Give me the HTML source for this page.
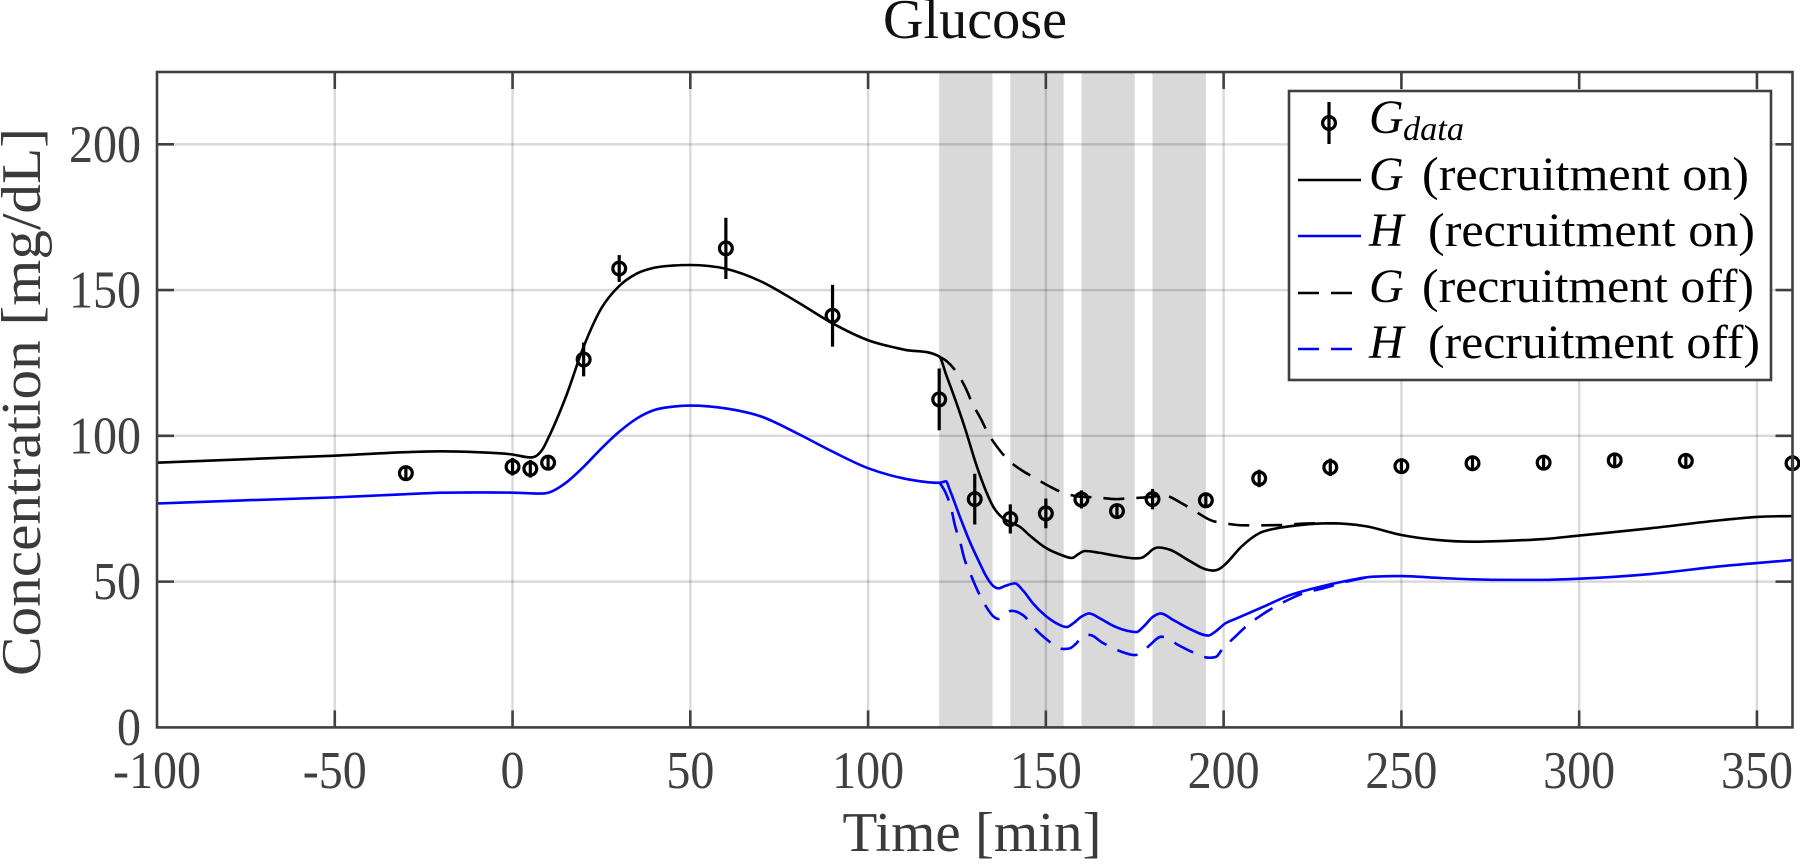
<!DOCTYPE html>
<html lang="en">
<head>
<meta charset="utf-8">
<title>Glucose</title>
<style>
html,body{margin:0;padding:0;background:#fff;}
svg{display:block;}
text{font-family:"Liberation Serif",serif;}
</style>
</head>
<body>
<svg id="chart" xmlns="http://www.w3.org/2000/svg" width="1800" height="865" viewBox="0 0 1800 865">
  <rect x="0" y="0" width="1800" height="865" fill="#fff"/>
  <g id="bands"></g>
  <g id="grid"></g>
  <g id="series"></g>
  <g id="points"></g>
  <g id="axes"></g>
  <text x="975" y="38" font-size="56" text-anchor="middle" textLength="184" lengthAdjust="spacingAndGlyphs" fill="#111">Glucose</text>
  <text x="972" y="851" font-size="56" text-anchor="middle" textLength="259" lengthAdjust="spacingAndGlyphs" fill="#3a3a3a">Time [min]</text>
  <text transform="translate(40,402) rotate(-90)" x="0" y="0" font-size="56" text-anchor="middle" textLength="548" lengthAdjust="spacingAndGlyphs" fill="#3a3a3a">Concentration [mg/dL]</text>

  <g>
    <rect x="1289" y="91" width="482" height="289" fill="#fff" stroke="#404040" stroke-width="2.6"/>
    <g>
      <line x1="1329" y1="102" x2="1329" y2="144" stroke="#000" stroke-width="3.2"/>
      <circle cx="1329" cy="123" r="6.4" fill="none" stroke="#000" stroke-width="3.2"/>
      <text x="1369" y="133" font-size="48" font-style="italic" fill="#000">G</text>
      <text x="1403" y="140" font-size="34" font-style="italic" textLength="61" lengthAdjust="spacingAndGlyphs" fill="#000">data</text>
    </g>
    <g>
      <line x1="1298" y1="180" x2="1361" y2="180" stroke="#000" stroke-width="2.6"/>
      <text x="1369" y="190" font-size="48" font-style="italic" fill="#000">G</text>
      <text x="1422" y="190" font-size="48" textLength="327" lengthAdjust="spacingAndGlyphs" fill="#000">(recruitment on)</text>
    </g>
    <g>
      <line x1="1298" y1="236" x2="1361" y2="236" stroke="#0000ff" stroke-width="2.6"/>
      <text x="1369" y="246" font-size="48" font-style="italic" fill="#000">H</text>
      <text x="1428" y="246" font-size="48" textLength="327" lengthAdjust="spacingAndGlyphs" fill="#000">(recruitment on)</text>
    </g>
    <g>
      <line x1="1298" y1="293" x2="1353" y2="293" stroke="#000" stroke-width="2.6" stroke-dasharray="21 12"/>
      <text x="1369" y="302" font-size="48" font-style="italic" fill="#000">G</text>
      <text x="1422" y="302" font-size="48" textLength="332" lengthAdjust="spacingAndGlyphs" fill="#000">(recruitment off)</text>
    </g>
    <g>
      <line x1="1298" y1="349" x2="1353" y2="349" stroke="#0000ff" stroke-width="2.6" stroke-dasharray="21 12"/>
      <text x="1369" y="358" font-size="48" font-style="italic" fill="#000">H</text>
      <text x="1428" y="358" font-size="48" textLength="332" lengthAdjust="spacingAndGlyphs" fill="#000">(recruitment off)</text>
    </g>
  </g>
</svg>
<script>
// ---- chart data ----
const xTicks = [-100,-50,0,50,100,150,200,250,300,350];
const yTicks = [0,50,100,150,200];
const bandStarts = [120,140,160,180];
const bandEnds = [135,155,175,195];

const dataTimes = [-30,0,5,10,20,30,60,90,120,130,140,150,160,170,180,195,210,230,250,270,290,310,330,360];
const dataValues = [87.2,89.4,88.7,90.8,126.2,157.4,164.3,141.2,112.5,78.3,71.5,73.4,78.2,74.2,78.3,77.9,85.4,89.2,89.6,90.6,90.8,91.6,91.4,90.6];
const dataErrors = [2.2,3,3,2.6,5.8,4.6,10.5,10.6,10.6,8.7,5,5.1,3.1,2.4,3.5,2.4,3,3,2.5,2.4,2.4,2.4,2.4,2.4];

const gOnTimes = [-100,-75,-50,-30,-20,-10,0,5,7,8.5,10,15,20,25,30,35,40,45,50,60,70,80,90,100,110,120,122,124.9,127.7,130,132.3,135.2,138,139.9,142.7,145.5,149.7,154,157.3,159.2,161,165,170,175,177,178.5,180,181.5,185,190,195,197,199,200.5,205,210,215,220,225,230,240,250,260,270,280,290,300,320,340,350,360];
const gOnValues = [90.8,92,93.2,94.4,94.7,94.4,93.6,92.6,93.4,95.5,99.1,113.4,130.6,143.8,151.4,155.7,157.7,158.4,158.6,157.3,152.9,146,138.6,132.8,129.6,127.2,120.8,111.1,100.9,91.7,83.7,75.7,71.7,70.4,68.8,65.8,61.8,59.3,58.1,59.5,60.5,59.9,58.8,58,58.2,59.4,61,61.7,60.9,57.4,54.2,53.8,54.5,56,62,66.6,68.3,69.2,69.8,70,69,66,64.3,63.7,64,64.6,65.8,68.3,71.1,72.2,72.5];

const hOnTimes = [-100,-75,-50,-30,-20,-9,0,5,8,10,15,20,25,30,35,40,45,50,60,70,80,90,100,110,120,121.9,123,125.8,128.6,131.4,133,135.2,136.6,138.5,141.3,143.6,146.4,149.7,153,155.8,157.7,160,162.2,165.2,169,172.7,175.5,177.4,180.2,182.3,185.9,190.6,195.7,197.6,200.5,203.7,211.2,218.7,225.3,234.7,240.3,250,260,270,280,290,300,320,340,360];
const hOnValues = [76.8,77.9,78.9,80,80.5,80.6,80.5,80.3,80.2,80.5,83.9,89.4,95.7,101.4,106,108.9,110,110.4,109.4,106.6,100.9,94.6,88.9,85.4,83.9,84.4,81.4,72.3,63.7,56.3,52.3,48.5,47.7,48.5,49.4,46.9,42.5,38.5,35.7,34.4,35.7,38,39.1,37.4,34.8,33.2,32.7,34.5,38,39.1,36.8,33.7,31.5,32.8,35.7,37.4,41.4,45.4,47.7,50.3,51.5,51.9,51.3,50.8,50.6,50.6,51,52.6,55.3,57.4];

const gOffTimes = [120,122,124.9,127.7,129.1,131.9,133.5,136.6,139,143.6,146.4,151.6,154.8,158.6,164.2,170,173.7,179.3,183,188.6,191.5,196.7,200.4,205.6,215.4,224.8,232];
const gOffValues = [127.2,125.7,121.8,115.7,111.7,105.4,101.4,95.7,92.2,87.9,85.9,82.3,80.5,79.3,78.9,78.3,78.6,79,79.6,76.6,74.5,70.9,70,69.3,69.4,70,70];

const hOffTimes = [120,121.8,123.5,124.4,126,126.9,129,130.5,133.1,135.4,136.6,137.8,140.3,143.6,147.3,150.1,154.8,156.7,158.4,160.4,162.3,166,171.2,175,176.8,179.2,182.5,187.6,190.9,196,198,199.4,203.4,206.2,210.6,213.9,219.1,222.3,228,234.6,240.3];
const hOffValues = [84.2,80.5,74.5,69.4,63.1,58.6,52,47.7,41.6,37.9,37.2,37.8,40,38.5,33.4,30.3,26.9,27.1,28.6,31.3,31.7,29,26,24.8,25.4,28.2,31.1,28,26,23.9,24.3,26.5,31.3,34.5,38.5,41,44.3,46,47.7,50,51.5];

// ---- axis functions ----
const plotLeft = 157, plotRight = 1792.5, plotTop = 72, plotBottom = 727.4;
const xMin = -100, xMax = 360, yMin = 0, yMax = 224.8;
function xScale(t){ return plotLeft + (t - xMin) * (plotRight - plotLeft) / (xMax - xMin); }
function yScale(v){ return plotBottom - (v - yMin) * (plotBottom - plotTop) / (yMax - yMin); }

const NS = 'http://www.w3.org/2000/svg';
function make(tag, parent, attrs){
  const el = document.createElementNS(NS, tag);
  for (const k in attrs) el.setAttribute(k, attrs[k]);
  parent.appendChild(el);
  return el;
}
function curvePath(ts, vs){
  const xs = ts.map(xScale), ys = vs.map(yScale), n = xs.length;
  const s = [], w = [];
  for (let i = 0; i < n - 1; i++){ w.push(xs[i+1]-xs[i]); s.push((ys[i+1]-ys[i])/w[i]); }
  const m = [s[0]];
  for (let i = 1; i < n - 1; i++){
    if (s[i-1]*s[i] <= 0){ m.push(0); continue; }
    const centered = (s[i-1]*w[i] + s[i]*w[i-1])/(w[i-1]+w[i]);
    const limit = 3*Math.min(Math.abs(s[i-1]), Math.abs(s[i]));
    m.push(Math.sign(centered)*Math.min(Math.abs(centered), limit));
  }
  m.push(s[n-2]);
  let d = 'M' + xs[0].toFixed(2) + ' ' + ys[0].toFixed(2);
  for (let i = 0; i < n - 1; i++){
    const h = w[i]/3;
    d += 'C' + (xs[i]+h).toFixed(2) + ' ' + (ys[i]+m[i]*h).toFixed(2) + ' ' +
         (xs[i+1]-h).toFixed(2) + ' ' + (ys[i+1]-m[i+1]*h).toFixed(2) + ' ' +
         xs[i+1].toFixed(2) + ' ' + ys[i+1].toFixed(2);
  }
  return d;
}

const axisColor = '#404040';
const bandsG = document.getElementById('bands');
const gridG = document.getElementById('grid');
const seriesG = document.getElementById('series');
const pointsG = document.getElementById('points');
const axesG = document.getElementById('axes');

// shaded bands
bandStarts.forEach(function(start, i){
  const band = make('rect', bandsG, {x:xScale(start), y:plotTop, width:xScale(bandEnds[i])-xScale(start), height:plotBottom-plotTop, fill:'#d9d9d9'});
  
  
});

// grid
xTicks.forEach(function(t){
  if (t === xMin) return;
  const line = make('line', gridG, {x1:xScale(t), x2:xScale(t), y1:plotTop, y2:plotBottom, stroke:'#000', 'stroke-opacity':0.15, 'stroke-width':2.4});
  
  
});
yTicks.forEach(function(v){
  if (v === yMin) return;
  const line = make('line', gridG, {x1:plotLeft, x2:plotRight, y1:yScale(v), y2:yScale(v), stroke:'#000', 'stroke-opacity':0.15, 'stroke-width':2.4});
  
  
});

// curves (dashed under solid)
const gOffLine = make('path', seriesG, {d:curvePath(gOffTimes, gOffValues), fill:'none', stroke:'#000', 'stroke-width':2.6, 'stroke-dasharray':'21 12'});


const hOffLine = make('path', seriesG, {d:curvePath(hOffTimes, hOffValues), fill:'none', stroke:'#0000ff', 'stroke-width':2.6, 'stroke-dasharray':'21 12'});


const gOnLine = make('path', seriesG, {d:curvePath(gOnTimes, gOnValues), fill:'none', stroke:'#000', 'stroke-width':2.6});


const hOnLine = make('path', seriesG, {d:curvePath(hOnTimes, hOnValues), fill:'none', stroke:'#0000ff', 'stroke-width':2.6});



// data points with error bars
dataTimes.forEach(function(t, i){
  const bar = make('line', pointsG, {x1:xScale(t), x2:xScale(t), y1:yScale(dataValues[i]-dataErrors[i]), y2:yScale(dataValues[i]+dataErrors[i]), stroke:'#000', 'stroke-width':3.2});
  
  
  const dot = make('circle', pointsG, {cx:xScale(t), cy:yScale(dataValues[i]), r:6.4, fill:'none', stroke:'#000', 'stroke-width':3.2});
  
  
});

// axes: ticks and labels
const tickLen = 17;
xTicks.forEach(function(t){
  const x = xScale(t);
  if (t !== xMin){
    const bottomTick = make('line', axesG, {x1:x, x2:x, y1:plotBottom, y2:plotBottom-tickLen, stroke:axisColor, 'stroke-width':2.6});
    
    
    const topTick = make('line', axesG, {x1:x, x2:x, y1:plotTop, y2:plotTop+tickLen, stroke:axisColor, 'stroke-width':2.6});
    
    
  }
  const s = String(t);
  const len = (s.replace('-','').length * 24) + (t < 0 ? 16 : 0);
  const label = make('text', axesG, {x:x, y:788, 'font-size':53, 'text-anchor':'middle', textLength:len, lengthAdjust:'spacingAndGlyphs', fill:axisColor});
  label.textContent = s;
  
  
});
yTicks.forEach(function(v){
  const y = yScale(v);
  if (v !== yMin){
    const leftTick = make('line', axesG, {x1:plotLeft, x2:plotLeft+tickLen, y1:y, y2:y, stroke:axisColor, 'stroke-width':2.6});
    
    
    const rightTick = make('line', axesG, {x1:plotRight, x2:plotRight-tickLen, y1:y, y2:y, stroke:axisColor, 'stroke-width':2.6});
    
    
  }
  const s = String(v);
  const len = s.length * 24;
  const label = make('text', axesG, {x:141-len/2, y:y+17.5, 'font-size':53, 'text-anchor':'middle', textLength:len, lengthAdjust:'spacingAndGlyphs', fill:axisColor});
  label.textContent = s;
  
  
});
const frame = make('rect', axesG, {x:plotLeft, y:plotTop, width:plotRight-plotLeft, height:plotBottom-plotTop, fill:'none', stroke:axisColor, 'stroke-width':2.6});


</script>
</body>
</html>
